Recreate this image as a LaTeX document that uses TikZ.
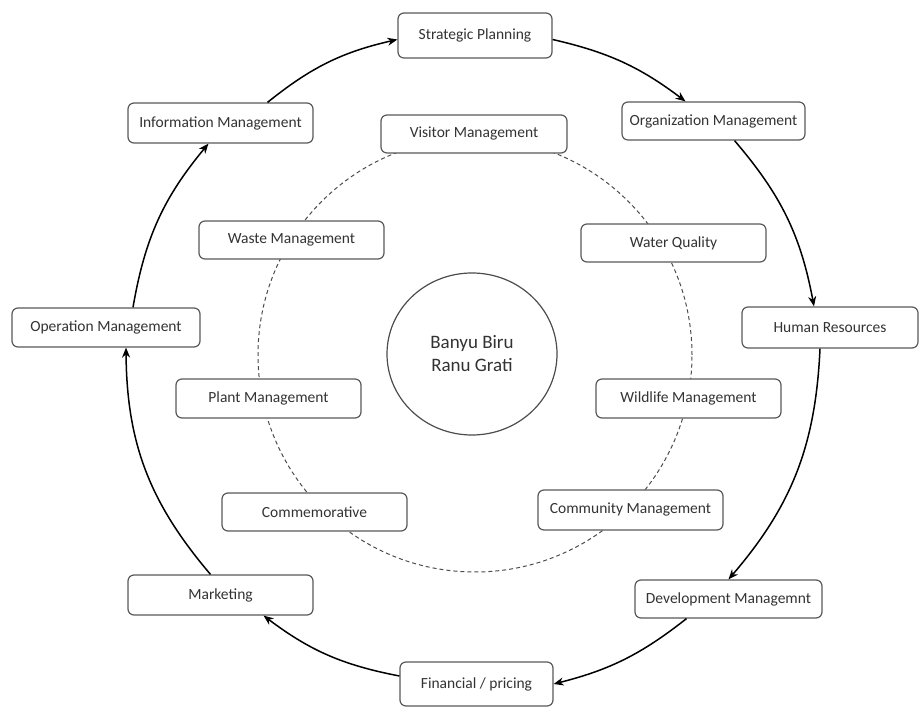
\documentclass[tikz,border=0pt]{standalone}
\usepackage{fontspec}
\setmainfont{Carlito}
\usetikzlibrary{arrows.meta,calc,shapes.geometric}
\begin{document}
\begin{tikzpicture}[x=1pt,y=1pt,
  box/.style={draw=black!65, line width=1.2pt, rounded corners=6pt, fill=white,
    text=black!80, font=\fontsize{15.5}{18}\selectfont, inner sep=0pt,
    minimum width=185pt, minimum height=38pt},
  flow/.style={line width=1.5pt, black, -{Stealth[length=10pt,width=8pt]}},
  ring/.style={circle, draw=black!70, line width=1pt, dash pattern=on 4pt off 3pt, minimum size=434pt, inner sep=0pt},
  hub/.style={ellipse, draw=black!70, line width=1.2pt, fill=white, text=black!80,
    align=center, font=\fontsize{19}{23}\selectfont, minimum width=170pt, minimum height=162pt, inner sep=0pt}
]
\useasboundingbox (0,0) rectangle (920,709);

% dashed ring and hub
\node[ring] (ring) at (475,354) {};
\node[hub] (hub) at (472,355) {Banyu Biru\\Ranu Grati};

% inner boxes
\node[box, minimum width=186pt] (vm) at (474,575) {Visitor Management};
\node[box] (wq) at (673.5,466) {Water Quality};
\node[box] (wm) at (291.5,469) {Waste Management};
\node[box, minimum height=39pt] (pm) at (268.5,310.5) {Plant Management};
\node[box, minimum height=39pt] (wim) at (688.5,310.5) {Wildlife Management};
\node[box] (com) at (314.5,197) {Commemorative};
\node[box, minimum height=40pt] (cm) at (630.5,199) {Community Management};

% outer boxes
\node[box, minimum width=154pt, minimum height=45pt] (sp) at (475,673.5) {Strategic Planning};
\node[box, minimum height=40pt] (im) at (220.5,586) {Information Management};
\node[box, minimum width=183pt] (om) at (713.5,588) {Organization Management};
\node[box, minimum width=188pt, minimum height=39pt] (opm) at (106,381.5) {Operation Management};
\node[box, minimum width=176pt, minimum height=41pt] (hr) at (830,381.5) {Human Resources};
\node[box, minimum height=40pt] (mkt) at (220.5,114) {Marketing};
\node[box, minimum width=187pt] (dm) at (728.5,110) {Development Managemnt};
\node[box, minimum width=153pt, minimum height=44pt] (fp) at (476.5,25) {Financial / pricing};

% outer cycle
\draw[flow] ([yshift=-4pt]sp.east) to[bend left=12] ([xshift=-28pt]om.north);
\draw[flow] ([xshift=21pt]om.south) to[bend left=15] ([xshift=-16pt]hr.north);
\draw[flow] ([xshift=-10pt]hr.south) to[bend left=19] (dm.north);
\draw[flow] ([xshift=-42pt]dm.south) to[bend left=12] (fp.east);
\draw[flow] ([yshift=8pt]fp.west) to[bend left=13] ([xshift=43pt]mkt.south);
\draw[flow] ([xshift=-10pt]mkt.north) to[bend left=20] ([xshift=20pt]opm.south);
\draw[flow] ([xshift=27pt]opm.north) to[bend left=15] ([xshift=-12pt]im.south);
\draw[flow] ([xshift=47pt]im.north) to[bend left=13] ([yshift=-4pt]sp.west);
\end{tikzpicture}
\end{document}
